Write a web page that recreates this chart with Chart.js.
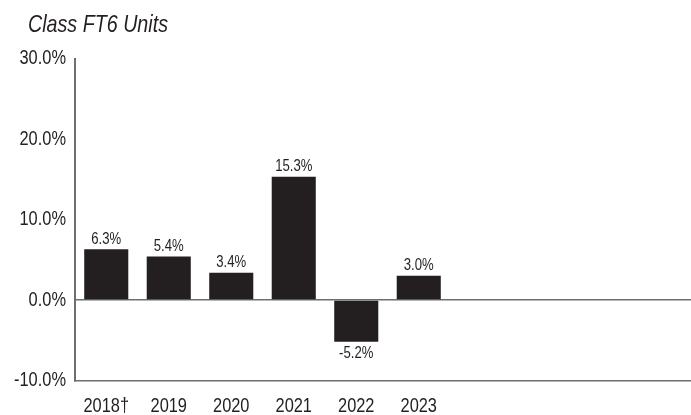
<!DOCTYPE html>
<html>
<head>
<meta charset="utf-8">
<script src="https://cdn.jsdelivr.net/npm/chart.js@4"></script>
<style>
  html, body { margin: 0; padding: 0; background: #fff; overflow: hidden; }
  #wrap { width: 700px; height: 415px; position: relative; }
</style>
</head>
<body>
<div id="wrap"><canvas id="fuelChart"></canvas></div>
<script>
// --- DATA ---
const categories = ['2018\u2020', '2019', '2020', '2021', '2022', '2023', '', '', '', ''];
const growthPct = [6.3, 5.4, 3.4, 15.3, -5.2, 3.0, null, null, null, null];
const yTickValues = [-10, 0, 10, 20, 30];
const chartTitle = 'Class FT6 Units';

// --- STYLE ---
const FONT = "'Liberation Sans', Arial, sans-serif";
const INK = '#231f20';
const LINE = '#6d6e71';
const NARROW = 0.82; // squeeze text to look like Arial Narrow (not installed)

const canvas = document.getElementById('fuelChart');
const ctx2d = canvas.getContext('2d');
const nativeFill = ctx2d.fillText;
ctx2d.fillText = function(text, x, y, maxWidth) {
    const w = this.measureText(text).width * NARROW;
    const mw = maxWidth === undefined ? w : Math.min(maxWidth, w);
    nativeFill.call(this, text, x, y, mw);
};

// title, top left
const titleText = {
    id: 'titleText',
    afterDraw(chart) {
        const ctx = chart.ctx;
        ctx.save();
        ctx.font = 'italic 24px ' + FONT;
        ctx.fillStyle = INK;
        ctx.textAlign = 'left';
        ctx.textBaseline = 'alphabetic';
        ctx.fillText(chartTitle, 28, 32);
        ctx.restore();
    }
};

// value labels above / below bars
const barLabels = {
    id: 'barLabels',
    afterDatasetsDraw(chart) {
        const ctx = chart.ctx;
        const meta = chart.getDatasetMeta(0);
        ctx.save();
        ctx.font = '16px ' + FONT;
        ctx.fillStyle = INK;
        ctx.textAlign = 'center';
        ctx.textBaseline = 'alphabetic';
        meta.data.forEach((bar, i) => {
            const v = growthPct[i];
            if (v === null) return;
            const txt = v.toFixed(1) + '%';
            if (v >= 0) {
                ctx.fillText(txt, bar.x, bar.y - 5.5);
            } else {
                ctx.fillText(txt, bar.x, bar.y + 16);
            }
        });
        ctx.restore();
    }
};

new Chart(canvas, {
    type: 'bar',
    data: {
        labels: categories,
        datasets: [{
            data: growthPct,
            backgroundColor: INK,
            borderWidth: 0,
            barPercentage: 0.705,
            categoryPercentage: 1.0
        }]
    },
    options: {
        responsive: true,
        maintainAspectRatio: false,
        devicePixelRatio: 1,
        animation: false,
        layout: { padding: { left: 0, right: 0, top: 58.5, bottom: 0 } },
        plugins: {
            legend: { display: false },
            tooltip: { enabled: false },
            title: { display: false }
        },
        scales: {
            x: {
                afterFit(scale) { scale.height = 34.5; },
                grid: { display: false, drawTicks: false },
                border: { display: true, color: LINE, width: 1.5 },
                ticks: {
                    color: INK,
                    padding: 14,
                    maxRotation: 0,
                    autoSkip: false,
                    font: { family: FONT, size: 20 }
                }
            },
            y: {
                min: -10,
                max: 30,
                afterFit(scale) { scale.width = 75; },
                afterBuildTicks(scale) {
                    scale.ticks = yTickValues.map(v => ({ value: v }));
                },
                grid: {
                    drawTicks: false,
                    color: ctx => (ctx.tick && ctx.tick.value === 0 ? LINE : 'rgba(0,0,0,0)'),
                    lineWidth: 1.5
                },
                border: { display: true, color: LINE, width: 2 },
                ticks: {
                    color: INK,
                    padding: 9,
                    font: { family: FONT, size: 20 },
                    callback: v => v.toFixed(1) + '%'
                }
            }
        }
    },
    plugins: [barLabels, titleText]
});
</script>
</body>
</html>
